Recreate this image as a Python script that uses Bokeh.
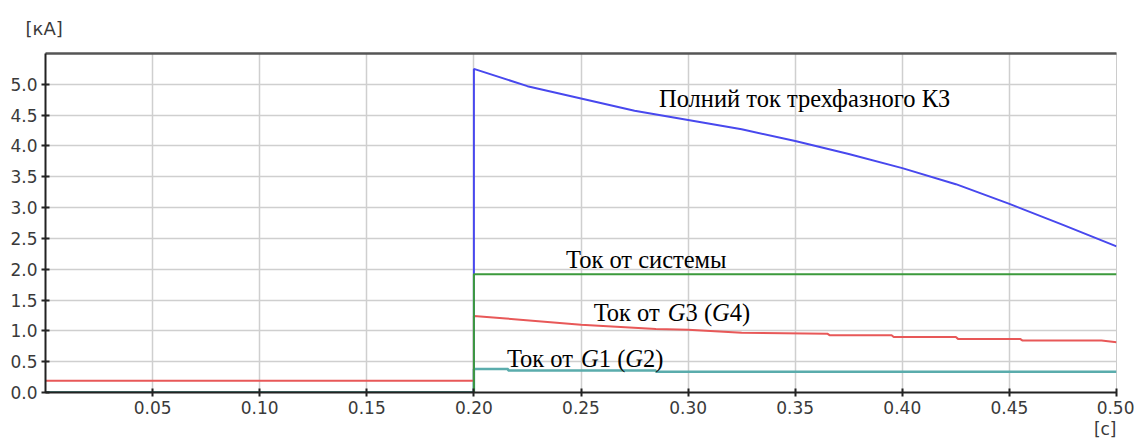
from bokeh.plotting import figure
from bokeh.models import Range1d, FixedTicker, LinearAxis, Title, NumeralTickFormatter
from bokeh.core.properties import value
from bokeh.embed import file_html
from bokeh.resources import INLINE

# ---- data ----
t_total = [0.0, 0.2, 0.2, 0.225, 0.25, 0.275, 0.30, 0.325, 0.35, 0.375, 0.40, 0.425, 0.45, 0.475, 0.50]
i_total = [0.0, 0.0, 5.25, 4.97, 4.77, 4.57, 4.42, 4.27, 4.08, 3.87, 3.64, 3.38, 3.06, 2.72, 2.37]

t_system = [0.0, 0.2, 0.2, 0.5]
i_system = [0.0, 0.0, 1.92, 1.92]

t_g34 = [0.0, 0.2, 0.2, 0.215, 0.25, 0.285, 0.30, 0.325, 0.365, 0.366, 0.395, 0.396,
         0.425, 0.426, 0.455, 0.456, 0.493, 0.50]
i_g34 = [0.19, 0.19, 1.24, 1.20, 1.10, 1.03, 1.02, 0.97, 0.955, 0.93, 0.93, 0.90,
         0.90, 0.87, 0.87, 0.845, 0.845, 0.815]

t_g12 = [0.0, 0.2, 0.2, 0.216, 0.216, 0.285, 0.285, 0.5]
i_g12 = [0.0, 0.0, 0.38, 0.38, 0.355, 0.355, 0.335, 0.335]

x_ticks = [0.05, 0.10, 0.15, 0.20, 0.25, 0.30, 0.35, 0.40, 0.45, 0.50]
y_ticks = [0.0, 0.5, 1.0, 1.5, 2.0, 2.5, 3.0, 3.5, 4.0, 4.5, 5.0]

y_unit = "[кА]"
x_unit = "[c]"
lbl_total = "Полний ток трехфазного КЗ"
lbl_system = "Ток от системы"

# ---- figure ----
p = figure(width=1134, height=438, output_backend="svg", toolbar_location=None,
           x_range=Range1d(0, 0.5), y_range=Range1d(0, 5.5),
           min_border_left=45, min_border_right=18, min_border_top=52, min_border_bottom=46)
p.outline_line_color = "#cccccc"
p.background_fill_color = "white"
p.border_fill_color = "white"

for ax in (p.xaxis[0], p.yaxis[0]):
    ax.axis_line_color = "#222222"
    ax.axis_line_width = 2
    ax.major_tick_line_color = "#222222"
    ax.major_tick_line_width = 2
    ax.major_tick_in = 4
    ax.major_tick_out = 4
    ax.minor_tick_line_color = None
    ax.major_label_text_font = "DejaVu Sans"
    ax.major_label_text_font_size = "17px"
    ax.major_label_text_color = "#3a3a3a"
    ax.major_label_standoff = 4

p.xaxis.ticker = FixedTicker(ticks=x_ticks)
p.xaxis.formatter = NumeralTickFormatter(format="0.00")
p.yaxis.ticker = FixedTicker(ticks=y_ticks)
p.yaxis.formatter = NumeralTickFormatter(format="0.0")

p.xgrid.ticker = FixedTicker(ticks=x_ticks)
p.ygrid.ticker = FixedTicker(ticks=y_ticks)
for g in (p.xgrid[0], p.ygrid[0]):
    g.grid_line_color = "#cfcfcf"
    g.grid_line_width = 1.5

top = LinearAxis(ticker=FixedTicker(ticks=[]), axis_line_color="#555555", axis_line_width=2.5,
                 major_tick_line_color=None, minor_tick_line_color=None)
p.add_layout(top, "above")

# ---- curves ----
p.line(t_g12, i_g12, color="#5aacac", line_width=2.5)
p.line(t_g34, i_g34, color="#e85858", line_width=2)
p.line(t_total, i_total, color="#4848ee", line_width=2)
p.line(t_system, i_system, color="#3c9a3c", line_width=2)

# ---- annotations ----
serif = value("Liberation Serif")
fs = value("24.5px")
em = 24.5
p.text(x=[0.2864], y=[4.77], text=[lbl_total], text_font=serif, text_font_size=fs,
       text_color="black", text_baseline="alphabetic")
p.text(x=[0.243], y=[2.16], text=[lbl_system], text_font=serif, text_font_size=fs,
       text_color="black", text_baseline="alphabetic")

def mixed(x0, y0, parts):
    off = 0.0
    for txt, italic, w in parts:
        p.text(x=[x0], y=[y0], text=[txt], x_offset=off, text_font=serif, text_font_size=fs,
               text_font_style="italic" if italic else "normal",
               text_color="black", text_baseline="alphabetic")
        off += w

mixed(0.2559, 1.29, [("Ток от ", False, 3.03 * em), ("G", True, 0.72 * em), ("3 (", False, 1.083 * em),
                     ("G", True, 0.72 * em), ("4)", False, 0)])
mixed(0.2154, 0.55, [("Ток от ", False, 3.03 * em), ("G", True, 0.72 * em), ("1 (", False, 1.083 * em),
                     ("G", True, 0.72 * em), ("2)", False, 0)])

p.add_layout(Title(text=y_unit, align="left", offset=-20, standoff=30,
                   text_font="DejaVu Sans", text_font_size="18px", text_font_style="normal",
                   text_color="#3a3a3a"), "above")
p.add_layout(Title(text=x_unit, align="right", offset=0, standoff=0,
                   text_font="DejaVu Sans", text_font_size="17px", text_font_style="normal",
                   text_color="#3a3a3a"), "below")

open("out.html", "w").write(file_html(p, INLINE))
